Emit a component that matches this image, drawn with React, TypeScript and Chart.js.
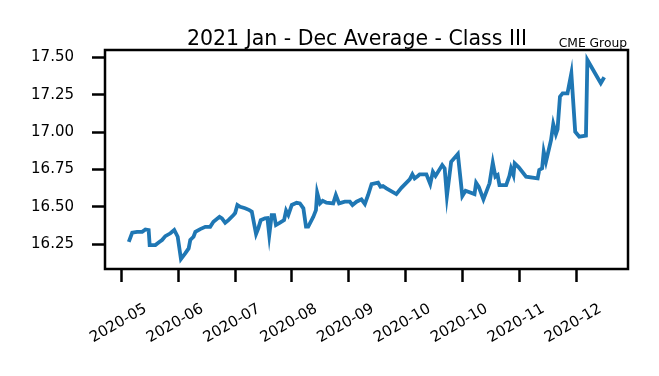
import React, { useEffect, useRef } from "react";
import { Chart, registerables } from "chart.js";

Chart.register(...registerables);

const TITLE = "2021 Jan - Dec Average - Class III";
const SOURCE = "CME Group";

// days counted from the first x tick (2020-05 tick)
const days = [
  3.6, 5.3, 7.7, 10.2, 11.8, 13.4, 13.9, 16.7, 18.8, 20, 21.6, 24.1, 26, 27.7, 29.3, 31.4, 33.1, 33.9, 35.5, 36.4,
  38.8, 41.3, 43.7, 45.3, 48.3, 49.5, 51.1, 52.7, 55.2, 56, 57.1, 58.5, 60.9, 63, 64.2, 65.3, 66.3, 67.4, 68.6, 70.7,
  71.9, 72.8, 74, 75.2, 76.1, 78.1, 80.1, 81.1, 82.2, 83.9, 86.3, 87.9, 89.6, 90.9, 92, 94.5, 95.8, 96.4, 97.8, 99.1,
  101, 104.3, 105.6, 107.2, 110, 112.5, 113.8, 115.8, 118.2, 119.9, 121.5, 123.2, 126.4, 127.6, 128.8, 130.5, 135.4,
  137.9, 142, 143.3, 144.4, 146, 146.9, 150.2, 152.1, 153.4, 154.7, 158, 159.2, 160.3, 162.4, 165.7, 167.9, 169.5,
  173.9, 174.7, 176, 178.3, 181.3, 182.9, 184.2, 185.3, 186.2, 189.5, 191.1, 191.9, 193.1, 193.7, 195.7, 199.3, 205,
  205.8, 207.2, 208, 209.1, 211.6, 212.7, 214, 214.8, 216, 217.3, 219.7, 221.6, 223.5, 225.5, 228.8, 229.5, 236.1,
  237.8,
];

const prices = [
  16.267, 16.328, 16.334, 16.334, 16.35, 16.346, 16.245, 16.245, 16.267, 16.279, 16.305, 16.324, 16.346, 16.301,
  16.152, 16.19, 16.223, 16.279, 16.301, 16.334, 16.352, 16.367, 16.367, 16.401, 16.434, 16.424, 16.394, 16.412,
  16.446, 16.459, 16.513, 16.501, 16.491, 16.479, 16.468, 16.39, 16.319, 16.357, 16.412, 16.424, 16.426, 16.312,
  16.446, 16.446, 16.379, 16.395, 16.412, 16.475, 16.446, 16.513, 16.528, 16.524, 16.491, 16.368, 16.368, 16.434,
  16.479, 16.595, 16.524, 16.541, 16.528, 16.524, 16.58, 16.524, 16.535, 16.535, 16.513, 16.535, 16.551, 16.52,
  16.58, 16.653, 16.662, 16.635, 16.64, 16.624, 16.586, 16.628, 16.684, 16.718, 16.691, 16.707, 16.718, 16.718,
  16.653, 16.735, 16.707, 16.78, 16.758, 16.573, 16.802, 16.854, 16.573, 16.608, 16.586, 16.662, 16.635, 16.551,
  16.658, 16.795, 16.702, 16.713, 16.646, 16.646, 16.707, 16.758, 16.713, 16.791, 16.765, 16.702, 16.691, 16.747,
  16.758, 16.869, 16.802, 16.947, 17.054, 16.987, 17.019, 17.237, 17.259, 17.259, 17.393, 17.003, 16.969, 16.976,
  17.482, 17.326, 17.366,
];

const xTickDays = [0, 28, 56, 84, 112, 140, 168, 196, 224];
const xTickLabels = ["2020-05", "2020-06", "2020-07", "2020-08", "2020-09", "2020-10", "2020-10", "2020-11", "2020-12"];
const yTicks = [16.25, 16.5, 16.75, 17.0, 17.25, 17.5];

const FONT = "'DejaVu Sans', sans-serif";

export default function App() {
  const ref = useRef<HTMLCanvasElement | null>(null);

  useEffect(() => {
    if (!ref.current) return;
    const xMinD = Math.min(...days), xMaxD = Math.max(...days);
    const yMinD = Math.min(...prices), yMaxD = Math.max(...prices);
    const xm = (xMaxD - xMinD) * 0.05;
    const ym = (yMaxD - yMinD) * 0.05;

    const framePlugin = {
      id: "frame",
      afterDraw(chart: any) {
        const { ctx, chartArea } = chart;
        ctx.save();
        ctx.strokeStyle = "#000";
        ctx.lineWidth = 2.5;
        ctx.strokeRect(chartArea.left, chartArea.top, chartArea.right - chartArea.left, chartArea.bottom - chartArea.top);
        ctx.fillStyle = "#000";
        ctx.font = `20.5px ${FONT}`;
        ctx.textAlign = "center";
        ctx.textBaseline = "alphabetic";
        ctx.fillText(TITLE, 357, 45);
        ctx.font = `12.3px ${FONT}`;
        ctx.textAlign = "right";
        ctx.fillText(SOURCE, 627, 47);
        ctx.restore();
      },
    };

    const chart = new Chart(ref.current, {
      type: "line",
      data: {
        datasets: [
          {
            data: days.map((d, i) => ({ x: d, y: prices[i] })),
            borderColor: "#1f77b4",
            borderWidth: 3.8,
            pointRadius: 0,
            tension: 0,
            fill: false,
          },
        ],
      },
      options: {
        animation: false,
        responsive: false,
        devicePixelRatio: 1,
        layout: { padding: { top: 50, right: 31, left: 0, bottom: 0 } },
        plugins: { legend: { display: false }, tooltip: { enabled: false }, title: { display: false } },
        scales: {
          x: {
            type: "linear",
            min: xMinD - xm,
            max: xMaxD + xm,
            border: { display: false },
            grid: {
              drawOnChartArea: false,
              drawTicks: true,
              tickLength: 13,
              tickWidth: 2.5,
              tickColor: "#000",
            },
            ticks: {
              autoSkip: false,
              minRotation: 30,
              maxRotation: 30,
              labelOffset: 24,
              padding: 18,
              color: "#000",
              font: { family: FONT, size: 15 },
              callback: (_v: any, i: number) => xTickLabels[i],
            },
            afterBuildTicks: (scale: any) => {
              scale.ticks = xTickDays.map((v) => ({ value: v }));
            },
            afterFit: (scale: any) => {
              scale.height = 107;
              scale.paddingLeft = 0;
              scale.paddingRight = 0;
            },
          },
          y: {
            type: "linear",
            min: yMinD - ym,
            max: yMaxD + ym,
            border: { display: false },
            grid: {
              drawOnChartArea: false,
              drawTicks: true,
              tickLength: 13,
              tickWidth: 2.5,
              tickColor: "#000",
            },
            ticks: {
              padding: 18,
              color: "#000",
              font: { family: FONT, size: 15 },
              callback: (v: any) => Number(v).toFixed(2),
            },
            afterBuildTicks: (scale: any) => {
              scale.ticks = yTicks.map((v) => ({ value: v }));
            },
            afterFit: (scale: any) => {
              scale.width = 105;
              scale.paddingTop = 0;
              scale.paddingBottom = 0;
            },
          },
        },
      },
      plugins: [framePlugin],
    });
    return () => chart.destroy();
  }, []);

  return (
    <div style={{ position: "absolute", left: 0, top: 0, width: 659, height: 376, background: "#fff" }}>
      <canvas ref={ref} width={659} height={376} style={{ display: "block" }} />
    </div>
  );
}
